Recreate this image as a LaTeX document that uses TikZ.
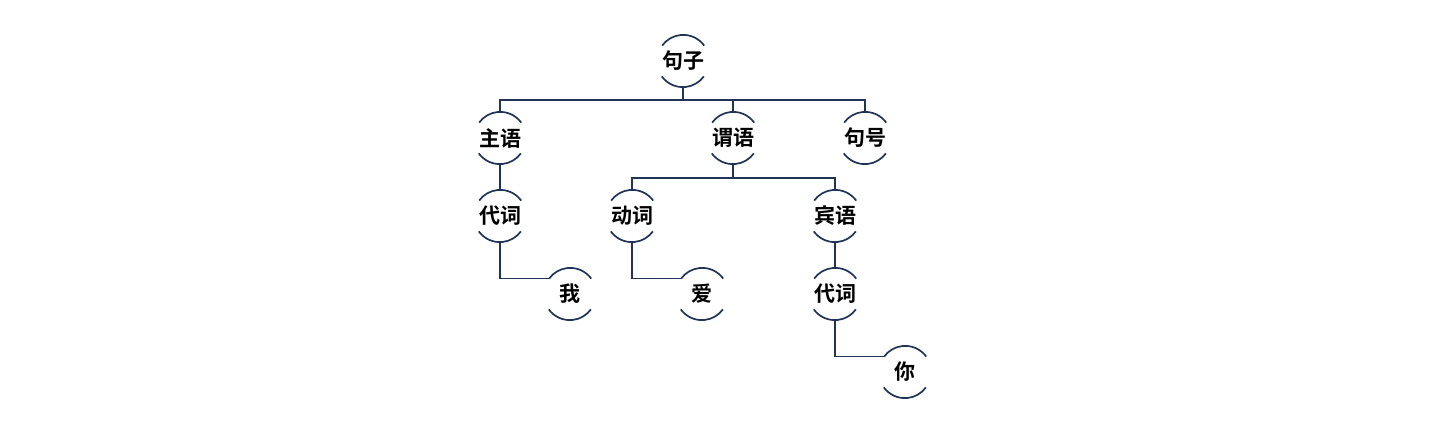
\documentclass[tikz,border=0pt]{standalone}
\usepackage{fontspec}
\usetikzlibrary{calc}
\newfontfamily\cjk{Noto Sans CJK SC}[BoldFont={Noto Sans CJK SC Bold}]
\definecolor{navy}{HTML}{1F3457}
\tikzset{
  word/.style={circle, minimum size=52pt, inner sep=0pt, draw=none, font=\cjk\bfseries\fontsize{21}{21}\selectfont, text=black},
  conn/.style={draw=navy, line width=1.5pt},
  brk/.style={draw=navy, line width=1.7pt}
}
\newcommand{\brackets}[1]{%
  \draw[brk] (#1.36) arc[start angle=36, end angle=144, radius=26pt];
  \draw[brk] (#1.216) arc[start angle=216, end angle=324, radius=26pt];
}
\begin{document}
\begin{tikzpicture}[x=1pt,y=1pt]
\useasboundingbox (0,0) rectangle (1456,432);
\node[word] (s) at (683,371) {句子};
\node[word] (zy) at (500,294) {主语};
\node[word] (wy) at (733,294) {谓语};
\node[word] (jh) at (865,294) {句号};
\node[word] (dc1) at (500,216) {代词};
\node[word] (dv) at (632,216) {动词};
\node[word] (by) at (835,216) {宾语};
\node[word] (wo) at (570,138) {我};
\node[word] (ai) at (702,138) {爱};
\node[word] (dc2) at (835,138) {代词};
\node[word] (ni) at (905,60) {你};
\foreach \n in {s,zy,wy,jh,dc1,dv,by,wo,ai,dc2,ni} {\brackets{\n}}
% top bus
\coordinate (b1) at ($(s.south)+(0,-13)$);
\draw[conn] (s.south) -- (b1);
\draw[conn] (b1) -| (zy.north);
\draw[conn] (b1) -| (wy.north);
\draw[conn] (b1) -| (jh.north);
% second bus
\coordinate (b2) at ($(wy.south)+(0,-14)$);
\draw[draw=navy, line width=2.6pt] (wy.south) -- (b2);
\draw[conn] (b2) -| (dv.north);
\draw[conn] (b2) -| (by.north);
% straight links
\draw[conn] (zy.south) -- (dc1.north);
\draw[conn] (by.south) -- (dc2.north);
% elbow links
\draw[conn] (dc1.south) |- (wo.144);
\draw[conn] (dv.south) |- (ai.144);
\draw[conn] (dc2.south) |- (ni.144);
\end{tikzpicture}
\end{document}
